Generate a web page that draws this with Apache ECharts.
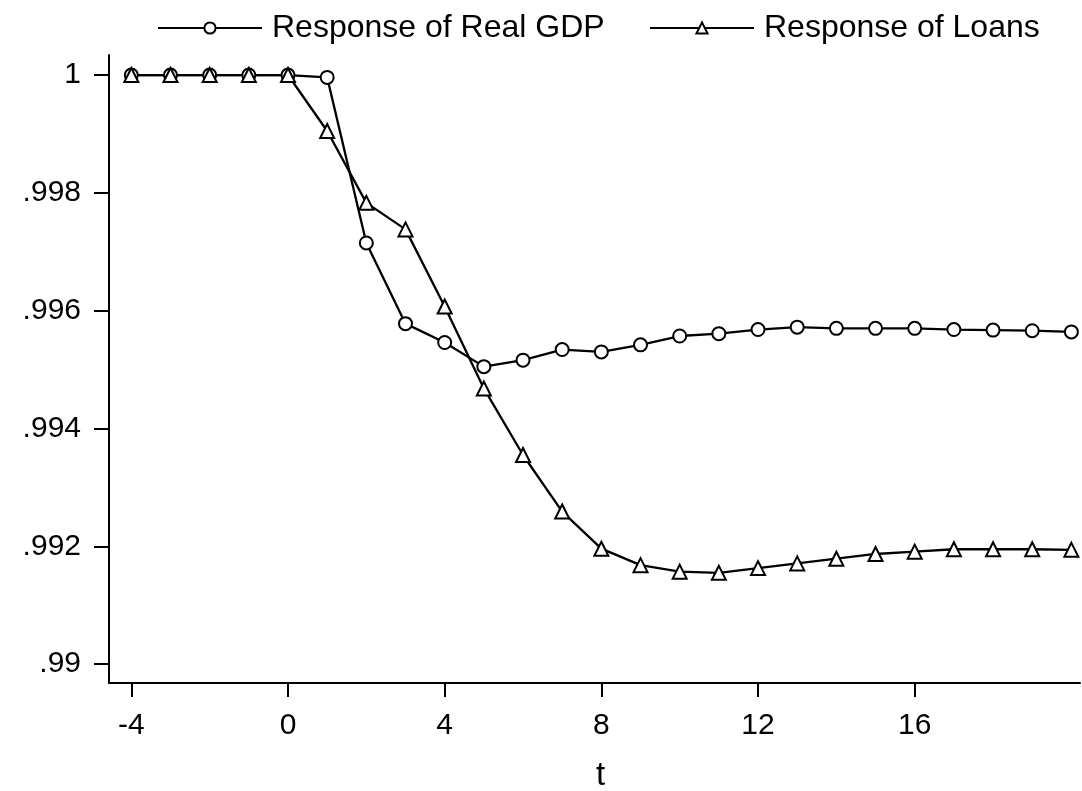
<!DOCTYPE html>
<html>
<head>
<meta charset="utf-8">
<script src="https://cdn.jsdelivr.net/npm/echarts@6/dist/echarts.min.js"></script>
<style>html,body{margin:0;padding:0;background:#fff}#c{width:1082px;height:791px}</style>
</head>
<body>
<div id="c"></div>
<script>
const periods = [-4,-3,-2,-1,0,1,2,3,4,5,6,7,8,9,10,11,12,13,14,15,16,17,18,19,20];
const gdp = [1,1,1,1,1,0.99996,0.99715,0.99578,0.99546,0.99505,0.99516,0.99534,0.99530,0.99542,0.99557,0.99561,0.99568,0.99572,0.99570,0.99570,0.99570,0.99568,0.99567,0.99566,0.99564];
const loans = [1,1,1,1,1,0.99905,0.99783,0.99738,0.99607,0.99468,0.99355,0.99259,0.99196,0.99168,0.99157,0.99155,0.99163,0.99171,0.99179,0.99187,0.99191,0.99195,0.99195,0.99195,0.99194];
const xTicks = [-4,0,4,8,12,16];
const yTicks = [0.99,0.992,0.994,0.996,0.998,1];
const names = ['Response of Real GDP','Response of Loans'];

const font = 'Liberation Sans, Arial, Helvetica, sans-serif';
const chart = echarts.init(document.getElementById('c'), null, {renderer:'canvas'});
function fmtY(v){ if (Math.abs(v-1)<1e-9) return '1'; return v.toFixed(3).replace(/0+$/,'').replace(/^0/,''); }
const legendBase = {
  orient:'horizontal', itemWidth:104, itemHeight:14, itemGap:0,
  textStyle:{fontFamily:font, fontSize:32, color:'#000', padding:[0,0,0,5]}
};
chart.setOption({
  backgroundColor:'#fff',
  animation:false,
  legend:[
    Object.assign({}, legendBase, {data:[names[0]], left:152, top:7}),
    Object.assign({}, legendBase, {data:[names[1]], left:644, top:7})
  ],
  grid:{left:109, right:2, top:55, bottom:108, containLabel:false, outerBoundsMode:'none'},
  xAxis:{
    type:'value', min:-4.57, max:20.22,
    name:'t', nameLocation:'middle', nameGap:76,
    nameTextStyle:{fontFamily:font, fontSize:33, color:'#000', padding:[0,0,0,12]},
    axisLine:{show:true, onZero:false, lineStyle:{color:'#000', width:2}},
    axisTick:{show:true, length:14, lineStyle:{color:'#000', width:2}, customValues:xTicks},
    axisLabel:{fontFamily:font, fontSize:30, color:'#000', margin:28, customValues:xTicks, formatter:v=>String(v)},
    splitLine:{show:false}
  },
  yAxis:{
    type:'value', min:0.98968, max:1.00034,
    axisLine:{show:true, onZero:false, lineStyle:{color:'#000', width:2}},
    axisTick:{show:true, length:15, lineStyle:{color:'#000', width:2}, customValues:yTicks},
    axisLabel:{fontFamily:font, fontSize:30, color:'#000', margin:28, customValues:yTicks, formatter:fmtY},
    splitLine:{show:false}
  },
  series:[
    {name:names[0], type:'line', data:periods.map((p,i)=>[p,gdp[i]]),
     symbol:'emptyCircle', symbolSize:13, showAllSymbol:true,
     lineStyle:{color:'#000', width:2.3}, itemStyle:{color:'#000', borderColor:'#000', borderWidth:2.3}},
    {name:names[1], type:'line', data:periods.map((p,i)=>[p,loans[i]]),
     symbol:'emptyTriangle', symbolSize:14, showAllSymbol:true,
     lineStyle:{color:'#000', width:2.3}, itemStyle:{color:'#000', borderColor:'#000', borderWidth:2.3}}
  ]
});
</script>
</body>
</html>
